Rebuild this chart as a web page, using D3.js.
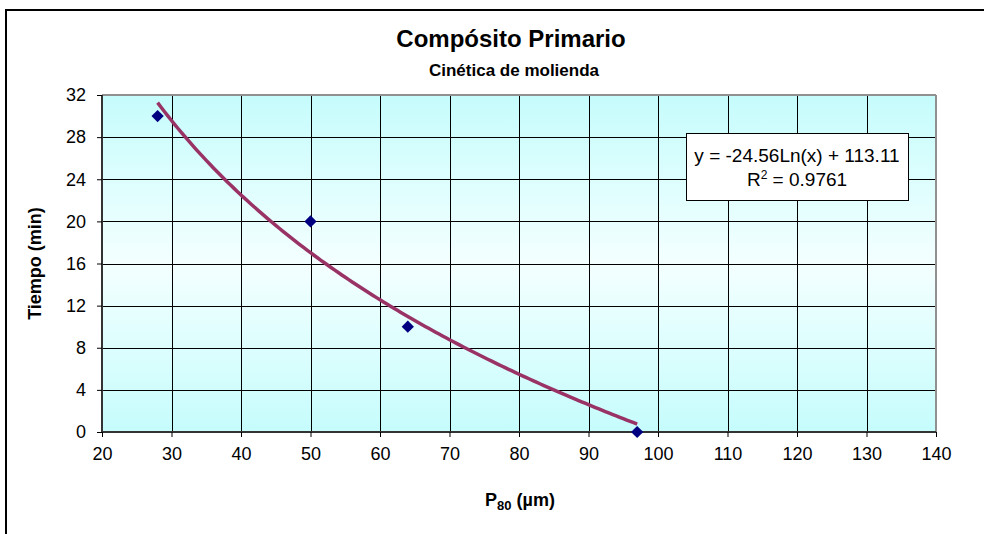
<!DOCTYPE html>
<html>
<head>
<meta charset="utf-8">
<script src="https://cdn.jsdelivr.net/npm/d3@7"></script>
<style>
  html, body { margin: 0; padding: 0; background: #fff; }
  svg { display: block; font-family: Arial, "Liberation Sans", sans-serif; }
</style>
</head>
<body>
<svg id="chart" width="984" height="534"></svg>
<script>
// ---- data ----
const p80 = [28, 50, 64, 97];          // µm
const tiempo = [30, 20, 10, 0];        // min
const xTicks = [20, 30, 40, 50, 60, 70, 80, 90, 100, 110, 120, 130, 140];
const yTicks = [0, 4, 8, 12, 16, 20, 24, 28, 32];
const trendCoef = [-24.56, 113.11];    // y = a*ln(x) + b
const trendLabel = ["y = -24.56Ln(x) + 113.11", "R² = 0.9761"];
const title = "Compósito Primario";
const subtitle = "Cinética de molienda";

const svg = d3.select("#chart");
const plot = { left: 102, right: 936, top: 95, bottom: 432 };

const x = d3.scaleLinear().domain([20, 140]).range([plot.left, plot.right]);
const y = d3.scaleLinear().domain([0, 32]).range([plot.bottom, plot.top]);

// outer chart frame (extends beyond the canvas right/bottom)
svg.append("rect").attr("x", 6).attr("y", 10).attr("width", 1000).attr("height", 600)
  .attr("fill", "#fff").attr("stroke", "#000").attr("stroke-width", 2);

// gradient background
const defs = svg.append("defs");
const grad = defs.append("linearGradient").attr("id", "bg").attr("x1", 0).attr("y1", 0).attr("x2", 0).attr("y2", 1);
grad.append("stop").attr("offset", "0%").attr("stop-color", "#c6fcfc");
grad.append("stop").attr("offset", "50%").attr("stop-color", "#f4ffff");
grad.append("stop").attr("offset", "100%").attr("stop-color", "#c6fcfc");

svg.append("rect").attr("x", plot.left).attr("y", plot.top)
  .attr("width", plot.right - plot.left).attr("height", plot.bottom - plot.top)
  .attr("fill", "url(#bg)");

// gridlines
const grid = svg.append("g").attr("stroke", "#000").attr("stroke-width", 1).attr("shape-rendering", "crispEdges");
grid.selectAll(".vg").data(xTicks.slice(1, -1)).join("line")
  .attr("x1", d => Math.round(x(d)) + 0.5).attr("x2", d => Math.round(x(d)) + 0.5)
  .attr("y1", plot.top).attr("y2", plot.bottom);
grid.selectAll(".hg").data(yTicks.slice(1, -1)).join("line")
  .attr("y1", d => Math.round(y(d)) + 0.5).attr("y2", d => Math.round(y(d)) + 0.5)
  .attr("x1", plot.left).attr("x2", plot.right);

// plot border (gray top/right)
svg.append("line").attr("x1", plot.left).attr("x2", plot.right).attr("y1", plot.top).attr("y2", plot.top)
  .attr("stroke", "#909090").attr("stroke-width", 2);
svg.append("line").attr("x1", plot.right).attr("x2", plot.right).attr("y1", plot.top).attr("y2", plot.bottom)
  .attr("stroke", "#909090").attr("stroke-width", 2);

// axes
const xAxis = d3.axisBottom(x).tickValues(xTicks).tickSize(5).tickPadding(10).tickFormat(d3.format("d"));
const yAxis = d3.axisLeft(y).tickValues(yTicks).tickSize(5).tickPadding(11).tickFormat(d3.format("d"));

const gx = svg.append("g").attr("transform", `translate(0,${plot.bottom})`).call(xAxis);
const gy = svg.append("g").attr("transform", `translate(${plot.left},0)`).call(yAxis);
[gx, gy].forEach(g => {
  g.select(".domain").attr("stroke", "#333").attr("stroke-width", 2);
  g.selectAll(".tick line").attr("stroke", "#000");
  g.selectAll(".tick text").attr("font-size", 18).attr("fill", "#000")
    .attr("font-family", "Arial, 'Liberation Sans', sans-serif");
});
gx.select(".domain").attr("d", `M${plot.left},0H${plot.right}`);
gy.select(".domain").attr("d", `M0,${plot.top}V${plot.bottom}`);

// trendline
const xs = d3.range(p80[0], p80[p80.length - 1] + 0.001, 0.5);
const line = d3.line().x(d => x(d)).y(d => y(trendCoef[0] * Math.log(d) + trendCoef[1]));
svg.append("path").datum(xs).attr("d", line)
  .attr("fill", "none").attr("stroke", "#993366").attr("stroke-width", 3.5)
  .attr("stroke-linejoin", "round");

// markers (diamonds)
svg.append("g").selectAll("path").data(p80.map((v, i) => [v, tiempo[i]])).join("path")
  .attr("d", d3.symbol().type(d3.symbolSquare).size(75))
  .attr("transform", d => `translate(${x(d[0])},${y(d[1])}) rotate(45)`)
  .attr("fill", "#000080");

// trendline label box
const box = { x: 686, y: 133, w: 222, h: 67 };
svg.append("rect").attr("x", box.x + 0.5).attr("y", box.y + 0.5).attr("width", box.w).attr("height", box.h)
  .attr("fill", "#fff").attr("stroke", "#000").attr("stroke-width", 1);
svg.append("text").attr("x", box.x + box.w / 2).attr("y", box.y + 29).attr("text-anchor", "middle")
  .attr("font-size", 19).text(trendLabel[0]);
const r2 = svg.append("text").attr("x", box.x + box.w / 2).attr("y", box.y + 53).attr("text-anchor", "middle")
  .attr("font-size", 19);
r2.append("tspan").text("R");
r2.append("tspan").attr("font-size", 12).attr("dy", -7).text("2");
r2.append("tspan").attr("dy", 7).text(trendLabel[1].replace("R² ", " "));

// titles
svg.append("text").attr("x", 511).attr("y", 47).attr("text-anchor", "middle")
  .attr("font-size", 24).attr("font-weight", "bold").text(title);
svg.append("text").attr("x", 514).attr("y", 76).attr("text-anchor", "middle")
  .attr("font-size", 17).attr("font-weight", "bold").text(subtitle);

// axis titles
svg.append("text").attr("transform", `translate(41,${(plot.top + plot.bottom) / 2}) rotate(-90)`)
  .attr("text-anchor", "middle").attr("font-size", 18).attr("font-weight", "bold").text("Tiempo (min)");
const xt = svg.append("text").attr("x", 520).attr("y", 506).attr("text-anchor", "middle")
  .attr("font-size", 18).attr("font-weight", "bold");
xt.append("tspan").text("P");
xt.append("tspan").attr("font-size", 13).attr("dy", 4).text("80");
xt.append("tspan").attr("dy", -4).text(" (µm)");
</script>
</body>
</html>
